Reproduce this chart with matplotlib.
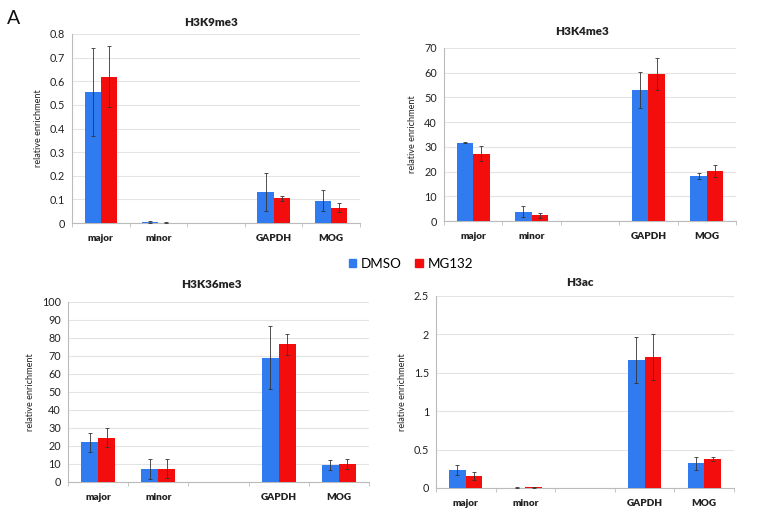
import numpy as np
import matplotlib.pyplot as plt
from matplotlib.patches import Patch

plt.rcParams['font.family'] = ['Lato', 'DejaVu Sans']

categories = ['major', 'minor', '', 'GAPDH', 'MOG']

# H3K9me3
k9_dmso = [0.555, 0.005, np.nan, 0.13, 0.095]
k9_dmso_err = [0.185, 0.003, 0, 0.08, 0.045]
k9_mg = [0.62, 0.002, np.nan, 0.105, 0.065]
k9_mg_err = [0.13, 0.001, 0, 0.01, 0.018]

# H3K4me3
k4_dmso = [31.7, 3.8, np.nan, 53.0, 18.2]
k4_dmso_err = [0.3, 2.3, 0, 7.3, 1.3]
k4_mg = [27.2, 2.4, np.nan, 59.5, 20.2]
k4_mg_err = [3.0, 1.0, 0, 6.5, 2.3]

# H3K36me3
k36_dmso = [22.0, 7.3, np.nan, 69.0, 9.5]
k36_dmso_err = [5.5, 5.5, 0, 17.5, 3.0]
k36_mg = [24.7, 7.3, np.nan, 76.5, 10.0]
k36_mg_err = [5.5, 5.3, 0, 6.0, 3.0]

# H3ac
ac_dmso = [0.23, 0.005, np.nan, 1.67, 0.32]
ac_dmso_err = [0.065, 0.003, 0, 0.30, 0.09]
ac_mg = [0.16, 0.01, np.nan, 1.70, 0.38]
ac_mg_err = [0.05, 0.004, 0, 0.30, 0.03]

blue = '#2f7bef'
red = '#f40d0d'
W, H = 768, 522

fig = plt.figure(figsize=(W / 100, H / 100), dpi=100)
fig.patch.set_facecolor('white')


def panel(x0, x1, ytop, y0, title, tx, ty, dmso, dmso_err, mg, mg_err, ymax, step, fmt):
    ax = fig.add_axes([x0 / W, 1 - y0 / H, (x1 - x0) / W, (y0 - ytop) / H])
    x = np.arange(len(categories))
    bw = 0.28
    ek = dict(ecolor='#333333', elinewidth=0.6, capsize=1.5, capthick=0.6)
    ax.bar(x - bw / 2, dmso, bw, color=blue, yerr=dmso_err, error_kw=ek, zorder=3)
    ax.bar(x + bw / 2, mg, bw, color=red, yerr=mg_err, error_kw=ek, zorder=3)
    ax.set_xlim(-0.5, len(categories) - 0.5)
    ax.set_ylim(0, ymax)
    yt = np.arange(0, ymax + step / 2, step)
    ax.set_yticks(yt)
    ax.set_yticklabels([fmt(v) for v in yt], fontsize=7.8, color='#222222')
    ax.set_xticks(x)
    ax.set_xticklabels(categories, fontsize=7.2, fontweight='heavy', color='#222222')
    ax.tick_params(axis='x', length=0, pad=8)
    ax.tick_params(axis='y', length=0, pad=5)
    ax.set_xticks(np.arange(-0.5, len(categories) + 0.5, 1), minor=True)
    ax.tick_params(axis='x', which='minor', length=3, color='#bbbbbb', direction='out')
    ax.grid(axis='y', color='#e4e4e4', linewidth=0.8, zorder=0)
    for s in ['top', 'right']:
        ax.spines[s].set_visible(False)
    for s in ['left', 'bottom']:
        ax.spines[s].set_color('#bbbbbb')
        ax.spines[s].set_linewidth(0.8)
    ax.set_ylabel('relative enrichment', fontsize=6.6, color='#222222', labelpad=5)
    fig.text(tx / W, 1 - ty / H, title, fontsize=8.4, fontweight='heavy',
             color='#222222', ha='center', va='center')
    return ax


def dec(v):
    return '0' if v == 0 else ('%g' % round(v, 2))


def num(v):
    return '%d' % round(v)


panel(72, 360, 34, 223, 'H3K9me3', 211, 23, k9_dmso, k9_dmso_err, k9_mg, k9_mg_err, 0.8, 0.1, dec)
panel(444, 736, 48, 221, 'H3K4me3', 582, 31, k4_dmso, k4_dmso_err, k4_mg, k4_mg_err, 70, 10, num)
panel(68, 369, 302, 482, 'H3K36me3', 211, 284, k36_dmso, k36_dmso_err, k36_mg, k36_mg_err, 100, 10, num)
panel(436, 734, 296, 488, 'H3ac', 580, 283, ac_dmso, ac_dmso_err, ac_mg, ac_mg_err, 2.5, 0.5, dec)

# legend
handles = [Patch(color=blue, label='DMSO'), Patch(color=red, label='MG132')]
fig.legend(handles=handles, loc='center', bbox_to_anchor=(411 / W, 1 - 264 / H), ncol=2,
           frameon=False, fontsize=9.6, handlelength=0.55, handleheight=0.55,
           handletextpad=0.35, columnspacing=1.0)

fig.text(7 / W, 1 - 18 / H, 'A', fontsize=14, va='center', ha='left', color='#111111')

fig.savefig('out.png', dpi=100)
